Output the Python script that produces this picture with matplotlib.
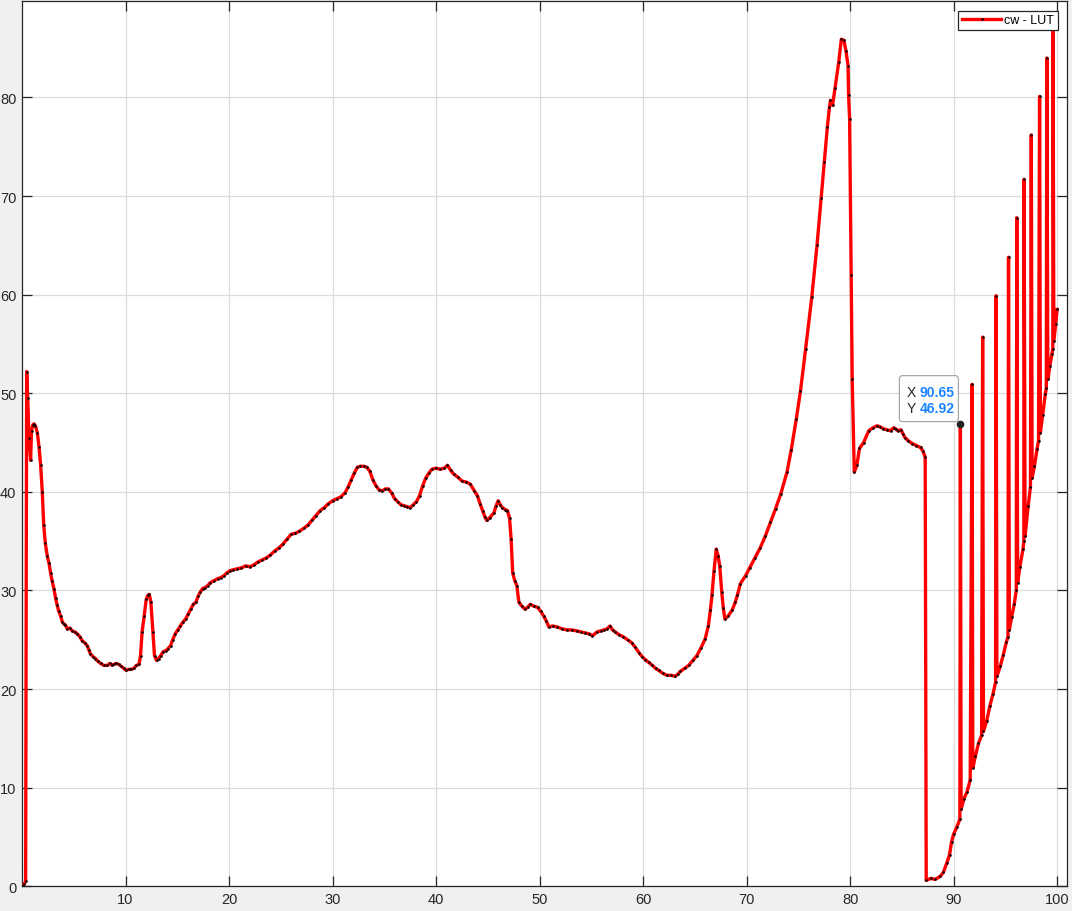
import matplotlib
matplotlib.use("Agg")
import matplotlib.pyplot as plt
from matplotlib.patches import FancyBboxPatch

plt.rcParams['font.family'] = ['Liberation Sans', 'DejaVu Sans']

# ---- data: main curve (x, y) ----
main_x = [0.05, 0.2, 0.35, 0.45, 0.55, 0.68, 0.83, 0.92, 1.05, 1.15, 1.3, 1.48, 1.65, 1.8, 1.96, 2.1, 2.25, 2.44, 2.6, 2.76,
          2.9, 3.08, 3.25, 3.4, 3.55, 3.73, 3.9, 4.05, 4.2, 4.37, 4.6, 4.86, 5.1, 5.34, 5.6, 5.82, 6.05, 6.3, 6.45, 6.6,
          6.85, 7.1, 7.35, 7.6, 7.9, 8.24, 8.5, 8.7, 8.87, 9.1, 9.36, 9.6, 9.84, 10.05, 10.3, 10.55, 10.8, 11.05, 11.3, 11.45,
          11.6, 11.8, 12.0, 12.15, 12.3, 12.45, 12.64, 12.8, 13.0, 13.2, 13.4, 13.65, 13.9, 14.1, 14.35, 14.55, 14.8, 15.05, 15.3, 15.55,
          15.8, 16.05, 16.3, 16.55, 16.8, 17.0, 17.2, 17.45, 17.7, 17.95, 18.2, 18.55, 18.9, 19.2, 19.5, 19.8, 20.1, 20.4, 20.8, 21.2,
          21.6, 22.0, 22.4, 22.8, 23.2, 23.6, 24.0, 24.4, 24.8, 25.2, 25.6, 26.0, 26.4, 26.8, 27.2, 27.6, 28.0, 28.4, 28.8, 29.2,
          29.6, 30.0, 30.4, 30.8, 31.2, 31.5, 31.8, 32.1, 32.4, 32.7, 33.0, 33.3, 33.6, 33.9, 34.2, 34.5, 34.8, 35.1, 35.4, 35.7,
          36.0, 36.3, 36.6, 36.9, 37.2, 37.5, 37.8, 38.1, 38.4, 38.7, 39.0, 39.3, 39.6, 40.0, 40.4, 40.8, 41.1, 41.4, 41.7, 42.1,
          42.5, 42.9, 43.3, 43.7, 44.0, 44.25, 44.5, 44.7, 44.9, 45.2, 45.6, 45.8, 46.0, 46.2, 46.4, 46.7, 46.9, 47.1, 47.25, 47.4,
          47.6, 47.8, 48.0, 48.3, 48.6, 48.85, 49.1, 49.45, 49.8, 50.1, 50.4, 50.65, 50.9, 51.3, 51.7, 52.2, 52.65, 53.1, 53.6, 54.0,
          54.4, 54.8, 55.1, 55.55, 55.9, 56.2, 56.5, 56.8, 57.05, 57.3, 57.7, 58.1, 58.5, 58.9, 59.2, 59.6, 59.9, 60.2, 60.55, 60.9,
          61.2, 61.5, 61.9, 62.3, 62.7, 63.1, 63.35, 63.6, 64.0, 64.4, 64.8, 65.2, 65.6, 66.0, 66.3, 66.5, 66.65, 66.85, 67.07, 67.25,
          67.4, 67.6, 67.75, 67.9, 68.2, 68.6, 68.9, 69.1, 69.4, 69.9, 70.3, 70.8, 71.3, 71.8, 72.3, 72.8, 73.3, 73.9, 74.3, 74.8,
          75.2, 75.7, 76.3, 76.8, 77.2, 77.5, 77.8, 78.0, 78.1, 78.3, 78.55, 78.9, 79.15, 79.4, 79.6, 79.8, 79.85, 79.95, 80.1, 80.2,
          80.4, 80.65, 80.9, 81.3, 81.8, 82.2, 82.6, 82.9, 83.2, 83.55, 83.9, 84.2, 84.4, 84.6, 84.9, 85.1, 85.3, 85.6, 86.0, 86.4,
          86.8, 87.05, 87.25]
main_y = [0.1, 0.2, 0.5, 52.2, 49.5, 45.5, 43.2, 46.2, 46.8, 46.9, 46.7, 46.0, 44.5, 42.7, 40.0, 36.6, 34.8, 33.5, 32.8, 31.8,
          31.0, 30.2, 29.2, 28.5, 27.9, 27.4, 26.8, 26.6, 26.5, 26.1, 26.2, 25.9, 25.8, 25.6, 25.3, 24.9, 24.7, 24.4, 24.0, 23.6,
          23.3, 23.1, 22.8, 22.6, 22.4, 22.4, 22.6, 22.4, 22.5, 22.6, 22.5, 22.3, 22.1, 21.9, 22.0, 22.0, 22.1, 22.4, 22.5, 23.4,
          25.8, 27.4, 29.1, 29.5, 29.6, 28.8, 25.8, 23.4, 22.9, 23.1, 23.4, 23.8, 23.9, 24.1, 24.4, 25.0, 25.6, 26.0, 26.4, 26.8,
          27.1, 27.6, 28.1, 28.6, 28.8, 29.4, 29.8, 30.2, 30.3, 30.5, 30.8, 31.0, 31.2, 31.3, 31.5, 31.8, 32.0, 32.1, 32.2, 32.3,
          32.5, 32.4, 32.6, 32.9, 33.1, 33.3, 33.6, 34.0, 34.3, 34.7, 35.2, 35.7, 35.8, 36.0, 36.3, 36.6, 37.1, 37.6, 38.1, 38.4,
          38.8, 39.1, 39.3, 39.5, 39.9, 40.5, 41.2, 41.9, 42.5, 42.6, 42.6, 42.5, 42.1, 41.2, 40.6, 40.2, 40.1, 40.3, 40.3, 39.9,
          39.3, 39.0, 38.7, 38.6, 38.5, 38.4, 38.7, 39.0, 39.6, 40.6, 41.4, 41.9, 42.3, 42.4, 42.3, 42.4, 42.7, 42.2, 41.8, 41.5,
          41.1, 41.0, 40.8, 40.1, 39.6, 38.8, 38.1, 37.5, 37.1, 37.4, 37.9, 38.6, 39.1, 38.7, 38.4, 38.2, 38.1, 37.3, 35.2, 31.8,
          31.0, 30.5, 28.8, 28.4, 28.1, 28.3, 28.6, 28.4, 28.3, 27.9, 27.4, 26.9, 26.3, 26.4, 26.3, 26.1, 26.0, 26.0, 25.9, 25.8,
          25.7, 25.6, 25.4, 25.8, 25.9, 26.0, 26.1, 26.4, 26.0, 25.8, 25.5, 25.3, 25.0, 24.7, 24.3, 23.7, 23.3, 23.0, 22.7, 22.4,
          22.1, 21.9, 21.6, 21.4, 21.4, 21.3, 21.5, 21.8, 22.1, 22.4, 22.9, 23.4, 24.2, 25.1, 26.4, 28.0, 29.5, 32.0, 34.2, 33.5,
          32.5, 29.8, 28.2, 27.1, 27.4, 28.0, 28.8, 29.5, 30.7, 31.5, 32.3, 33.3, 34.3, 35.5, 36.9, 38.3, 39.8, 42.0, 44.2, 47.4,
          50.2, 54.5, 59.8, 65.0, 69.8, 73.5, 77.0, 79.0, 79.7, 79.2, 81.0, 83.6, 85.9, 85.8, 84.7, 83.2, 80.2, 77.8, 62.0, 51.4,
          42.0, 42.7, 44.4, 45.0, 46.2, 46.5, 46.7, 46.6, 46.4, 46.3, 46.2, 46.5, 46.4, 46.2, 46.3, 45.9, 45.5, 45.2, 44.9, 44.7,
          44.5, 44.1, 43.5]

# ---- data: tail region baseline after the drop ----
base_x = [87.35, 87.8, 88.2, 88.7, 89.0, 89.35, 89.6, 89.8, 90.0, 90.3, 90.6, 90.72, 91.0, 91.3, 91.6, 91.85, 92.1, 92.4,
          92.7, 92.88, 93.2, 93.5, 93.8, 94.05, 94.18, 94.5, 94.8, 95.1, 95.25, 95.38, 95.6, 95.85, 96.05, 96.18, 96.4, 96.7,
          96.78, 96.9, 97.2, 97.42, 97.58, 97.8, 98.05, 98.2, 98.38, 98.6, 98.85, 98.95, 99.1, 99.3, 99.5, 99.58, 99.68, 99.85, 100.0]
base_y = [0.6, 0.8, 0.7, 1.0, 1.4, 2.4, 3.2, 4.5, 5.3, 6.0, 6.8, 7.8, 8.9, 9.6, 10.8, 12.0, 13.2, 14.5,
          15.3, 15.7, 16.8, 18.3, 19.5, 20.7, 21.3, 22.3, 23.5, 24.8, 25.3, 26.0, 27.3, 28.6, 30.0, 30.8, 32.4, 34.2,
          35.0, 35.5, 38.6, 40.5, 41.4, 42.6, 44.3, 45.2, 46.0, 47.8, 49.9, 50.5, 51.4, 52.8, 54.0, 54.5, 55.3, 57.0, 58.5]

# ---- data: isolated spikes in the tail ----
spike_x = [90.65, 91.78, 92.8, 94.1, 95.3, 96.1, 96.8, 97.5, 98.3, 99.0, 99.6]
spike_y = [46.92, 50.9, 55.7, 59.9, 63.8, 67.8, 71.7, 76.2, 80.1, 84.0, 88.5]

# datatip
tip_x, tip_y = 90.65, 46.92

series_label = "cw - LUT"
x_ticks = [10, 20, 30, 40, 50, 60, 70, 80, 90, 100]
y_ticks = [0, 10, 20, 30, 40, 50, 60, 70, 80]

# merge tail data in x order
tail = sorted(list(zip(base_x, base_y)) + list(zip(spike_x, spike_y)))
xs = main_x + [p[0] for p in tail]
ys = main_y + [p[1] for p in tail]

fig = plt.figure(figsize=(10.72, 9.12), dpi=100, facecolor='#f0f0f0')
ax = fig.add_axes([22 / 1072, (912 - 887.3) / 912, (1067 - 22) / 1072, (887.3 - 2.3) / 912])
ax.set_facecolor('white')

ax.plot(xs, ys, color='#ff0000', lw=2.4, marker='o', markersize=1.5,
        markerfacecolor='black', markeredgecolor='black', markeredgewidth=0.3,
        label=series_label, zorder=3)

ax.set_xlim(0, 100.95)
ax.set_ylim(0, 89.75)
ax.set_xticks(x_ticks)
ax.set_yticks(y_ticks)
ax.grid(True, color='#dcdcdc', lw=0.9)
ax.set_axisbelow(True)
ax.tick_params(direction='in', length=7, width=0.9, top=True, right=True,
               labelsize=10.5, colors='#262626', pad=4)
for s in ax.spines.values():
    s.set_color('#262626')
    s.set_linewidth(0.9)

leg = ax.legend(loc='upper right', fontsize=9, numpoints=1, handlelength=3.1,
                handletextpad=0.25, borderaxespad=0.75, fancybox=False, framealpha=1,
                borderpad=0.3)
leg.get_frame().set_edgecolor('#262626')
leg.get_frame().set_linewidth(0.9)

# datatip
ax.plot([tip_x], [tip_y], 'o', color='#222222', markersize=4.5, zorder=5)
disp = ax.transData.transform((tip_x, tip_y))
box = FancyBboxPatch((disp[0] - 61, disp[1] + 2), 59, 46,
                     boxstyle='round,pad=0,rounding_size=3', transform=None,
                     facecolor='#fdfdfd', edgecolor='#a0a0a0', lw=0.8, zorder=6)
fig.patches.append(box)
fig.text(disp[0] - 54, disp[1] + 32, "X", transform=None, fontsize=10, color='#262626',
         va='center', ha='left', zorder=7)
fig.text(disp[0] - 41, disp[1] + 32, f"{tip_x:.2f}", transform=None, fontsize=10,
         color='#1a85ff', fontweight='bold', va='center', ha='left', zorder=7)
fig.text(disp[0] - 54, disp[1] + 16, "Y", transform=None, fontsize=10, color='#262626',
         va='center', ha='left', zorder=7)
fig.text(disp[0] - 41, disp[1] + 16, f"{tip_y:.2f}", transform=None, fontsize=10,
         color='#1a85ff', fontweight='bold', va='center', ha='left', zorder=7)

fig.savefig('out.png', dpi=100, facecolor=fig.get_facecolor())
